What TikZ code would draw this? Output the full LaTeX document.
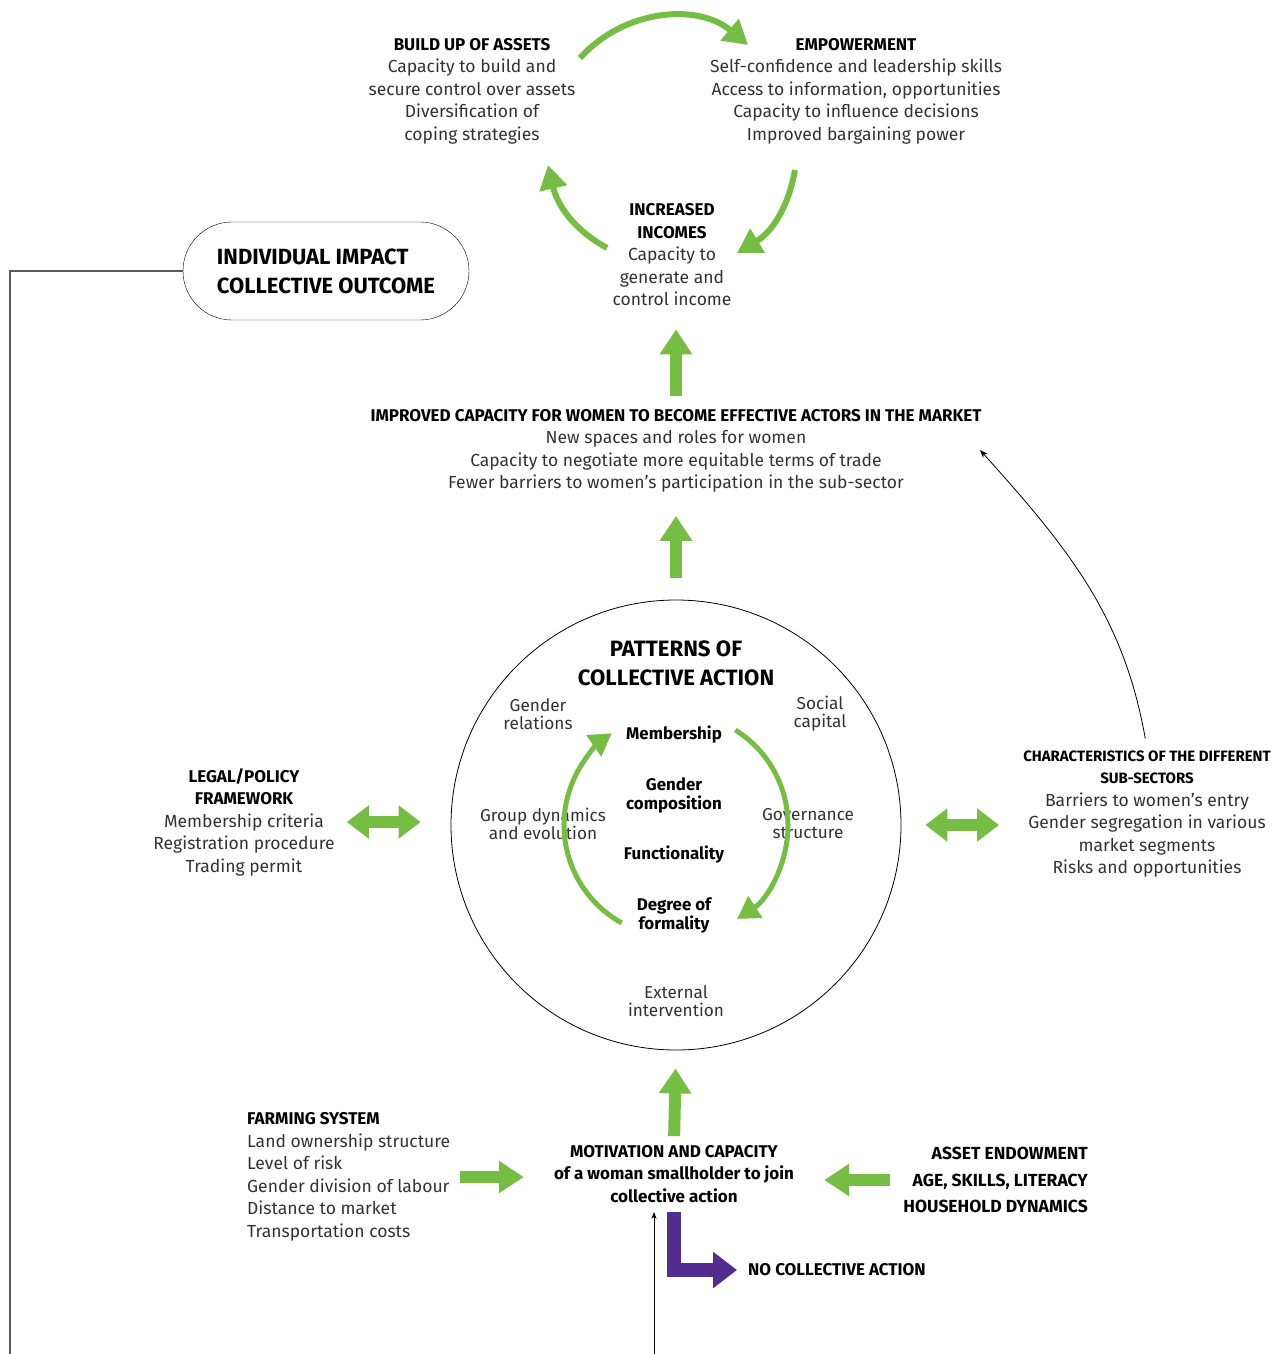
\documentclass[tikz,border=0pt]{standalone}
\usepackage{fontspec}
\setmainfont{Fira Sans}
\usetikzlibrary{arrows.meta,positioning}
\usepackage{xcolor}

\definecolor{leafgreen}{RGB}{118,190,67}
\definecolor{deeppurple}{RGB}{82,45,143}
\definecolor{bodygray}{RGB}{50,50,50}

\newcommand{\hd}[1]{\textcolor{black}{\bfseries\fontsize{17}{22.5}\selectfont #1}}

\begin{document}
\begin{tikzpicture}[x=1pt, y=-1pt,
  body/.style={align=center, inner sep=2pt, text=bodygray, font=\fontsize{17.5}{22.5}\selectfont},
  ringtext/.style={align=center, inner sep=1pt, text=bodygray, font=\fontsize{17.2}{18}\selectfont},
  ringbold/.style={align=center, inner sep=1pt, font=\bfseries\fontsize{16.9}{19}\selectfont},
  bigtitle/.style={align=center, inner sep=2pt, font=\bfseries\fontsize{22.2}{29}\selectfont},
  greenup/.style={leafgreen, line width=12pt, -{Triangle[length=25pt,width=31pt]}},
  greentwin/.style={leafgreen, line width=12pt, {Triangle[length=22pt,width=32pt]}-{Triangle[length=22pt,width=32pt]}},
  cycarrow/.style={leafgreen, line width=6pt, -{Triangle[length=24pt,width=27pt]}},
  ringarrow/.style={leafgreen, line width=5pt, -{Triangle[length=22pt,width=25pt]}},
  feedline/.style={draw=black!65, line width=1.2pt},
  thinarrow/.style={black, line width=0.8pt, -{Stealth[length=8pt,width=6pt]}},
]
\useasboundingbox (0,0) rectangle (1273,1354);

  % Nodes
  \node (assets) [body] at (472,91) {\hd{BUILD UP OF ASSETS}\\Capacity to build and\\secure control over assets\\Diversification of\\coping strategies};
  \node (empower) [body] at (856,91) {\hd{EMPOWERMENT}\\Self-confidence and leadership skills\\Access to information, opportunities\\Capacity to influence decisions\\Improved bargaining power};
  \node (incomes) [body] at (672,255) {\hd{INCREASED}\\\hd{INCOMES}\\Capacity to\\generate and\\control income};
  \node (outcome) [draw, rounded corners=49pt, minimum width=286pt, minimum height=98pt, align=left, font=\bfseries\fontsize{22}{29}\selectfont] at (326,271) {INDIVIDUAL IMPACT\\COLLECTIVE OUTCOME};
  \node (market) [body] at (676,451) {\hd{IMPROVED CAPACITY FOR WOMEN TO BECOME EFFECTIVE ACTORS IN THE MARKET}\\New spaces and roles for women\\Capacity to negotiate more equitable terms of trade\\Fewer barriers to women’s participation in the sub-sector};

  \node (pattern) [draw, circle, minimum size=450pt, inner sep=0pt, line width=0.8pt] at (676,825) {};
  \node (title) [bigtitle] at (676,663) {PATTERNS OF\\COLLECTIVE ACTION};
  \node (grel) [ringtext] at (538,714) {Gender\\relations};
  \node (scap) [ringtext] at (820,714) {Social\\capital};
  \node (gdyn) [ringtext] at (543,824) {Group dynamics\\and evolution};
  \node (gov) [ringtext] at (808,824) {Governance\\structure};
  \node (ext) [ringtext] at (676,1001) {External\\intervention};
  \node (memb) [ringbold] at (674,735) {Membership};
  \node (gcomp) [ringbold] at (674,795) {Gender\\composition};
  \node (func) [ringbold] at (674,855) {Functionality};
  \node (dform) [ringbold] at (674,915) {Degree of\\formality};

  \node (legal) [body] at (244,822) {\hd{LEGAL/POLICY}\\\hd{FRAMEWORK}\\Membership criteria\\Registration procedure\\Trading permit};
  \node (char) [body] at (1147,814) {\textcolor{black}{\bfseries\fontsize{15}{20}\selectfont CHARACTERISTICS OF THE DIFFERENT}\\\textcolor{black}{\bfseries\fontsize{15}{20}\selectfont SUB-SECTORS}\\Barriers to women’s entry\\Gender segregation in various\\market segments\\Risks and opportunities};

  \node (farming) [body, align=left, anchor=west] at (245,1177) {\hd{FARMING SYSTEM}\\Land ownership structure\\Level of risk\\Gender division of labour\\Distance to market\\Transportation costs};
  \node (motiv) [align=center, inner sep=2pt, font=\bfseries\fontsize{17}{22.5}\selectfont] at (674,1174) {MOTIVATION AND CAPACITY\\of a woman smallholder to join\\collective action};
  \node (asset) [align=right, anchor=east, inner sep=2pt, font=\bfseries\fontsize{17.5}{26.5}\selectfont] at (1090,1180) {ASSET ENDOWMENT\\AGE, SKILLS, LITERACY\\HOUSEHOLD DYNAMICS};
  \node (nca) [anchor=west, inner sep=2pt, font=\bfseries\fontsize{17}{18}\selectfont] at (746,1270) {NO COLLECTIVE ACTION};

  \coordinate (fbl) at (10,1354);
  \coordinate (fbb) at (654,1354);

  % Cycle of impact
  \draw[cycarrow] ([shift={(108,-33)}]assets.center) to[out=48,in=140] ([shift={(-108,-46)}]empower.center);
  \draw[cycarrow] ([shift={(-61,79)}]empower.center) to[out=-100,in=31] ([shift={(65,-2)}]incomes.center);
  \draw[cycarrow] ([shift={(-65,-7)}]incomes.center) to[out=151,in=-77] ([shift={(76,74)}]assets.center);

  % Arrows up the chain
  \draw[greenup, shorten <=11pt, shorten >=21pt] (market.north) -- (market.north |- incomes.south);
  \draw[greenup, shorten <=22pt, shorten >=21pt] (pattern.north) -- (market.south);
  \draw[greenup, shorten <=7pt, shorten >=18pt] (motiv.north) -- (pattern.south);

  % Inner cycle
  \draw[ringarrow] ([shift={(58:112pt)}]pattern.center) arc[start angle=58, end angle=-57, radius=112pt];
  \draw[ringarrow] ([shift={(241:112pt)}]pattern.center) arc[start angle=241, end angle=125, radius=112pt];

  % Side arrows
  \draw[greentwin, shorten <=10pt, shorten >=30pt] (legal.east) -- (legal.east -| pattern.west);
  \draw[greentwin, shorten <=24pt, shorten >=22pt] (pattern.east) -- (pattern.east -| char.west);
  \draw[greenup, shorten <=8pt, shorten >=28pt] (farming.east) -- (farming.east -| motiv.west);
  \draw[greenup, shorten <=11pt, shorten >=28pt] (asset.west) -- (asset.west -| motiv.east);

  % No collective action
  \draw[deeppurple, line width=14pt, line join=miter, -{Triangle[length=24pt,width=35pt]}, shorten <=7pt, shorten >=9pt] (motiv.south) |- (nca.west);

  % Feedback lines
  \draw[thinarrow, shorten <=10pt] (char.north) to[out=100,in=-48] ([shift={(304,-1)}]market.center);
  \draw[feedline] (outcome.west) -| (fbl);
  \draw[feedline, -{Stealth[length=7pt,width=5pt]}, line width=0.8pt, draw=black, shorten >=7pt] (fbb) -- (fbb |- motiv.south);
\end{tikzpicture}
\end{document}
